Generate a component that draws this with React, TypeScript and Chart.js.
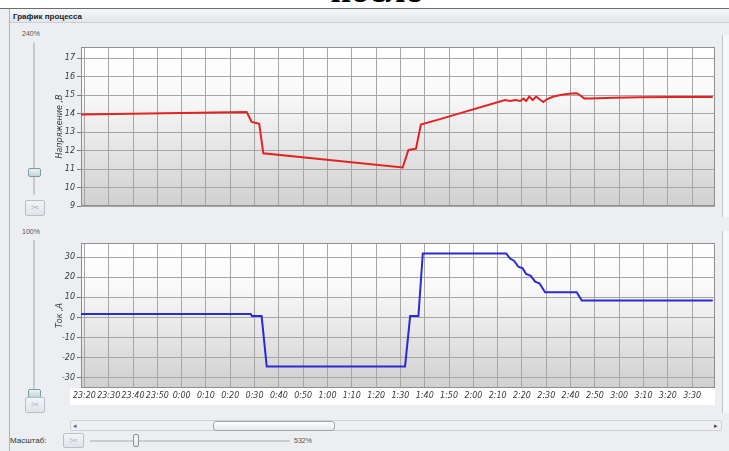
import React, { useEffect, useRef } from 'react';
import { Chart, registerables } from 'chart.js';

Chart.register(...registerables);

// ---- data ----
const tickMinutes = [0, 10, 20, 30, 40, 50, 60, 70, 80, 90, 100, 110, 120, 130, 140, 150, 160, 170, 180, 190, 200, 210, 220, 230, 240, 250];
const tickLabels = ['23:20', '23:30', '23:40', '23:50', '0:00', '0:10', '0:20', '0:30', '0:40', '0:50', '1:00', '1:10', '1:20', '1:30', '1:40', '1:50', '2:00', '2:10', '2:20', '2:30', '2:40', '2:50', '3:00', '3:10', '3:20', '3:30'];

const voltageTimes = [-1.4, 66.75, 68.8, 71.9, 73.6, 130.9, 133.3, 136.4, 138.4, 146.3, 173.0, 175.1, 177.2, 179.2, 180.6, 181.7, 183.0, 184.4, 185.8, 187.2, 188.8, 190.2, 192.9, 197.0, 200.5, 202.5, 203.9, 205.6, 208.0, 217.6, 228.6, 242.3, 258.5];
const voltageValues = [13.95, 14.08, 13.55, 13.45, 11.85, 11.08, 12.03, 12.1, 13.4, 13.7, 14.73, 14.68, 14.73, 14.68, 14.81, 14.68, 14.92, 14.73, 14.92, 14.77, 14.62, 14.77, 14.92, 15.03, 15.08, 15.1, 14.99, 14.82, 14.82, 14.86, 14.88, 14.9, 14.9];

const currentTimes = [-1.4, 68.4, 68.9, 72.9, 75.0, 131.9, 134.0, 137.4, 139.2, 173.5, 175.1, 176.7, 178.5, 180.3, 181.7, 183.6, 185.4, 187.2, 189.5, 202.5, 204.6, 258.5];
const currentValues = [1.7, 1.7, 0.7, 0.7, -24.3, -24.3, 0.7, 0.7, 31.8, 31.8, 29.3, 28.2, 25.2, 24.4, 21.6, 20.7, 17.8, 17.0, 12.5, 12.5, 8.4, 8.4];

const voltageTicks = [9, 10, 11, 12, 13, 14, 15, 16, 17];
const currentTicks = [-30, -20, -10, 0, 10, 20, 30];

const X_MIN = -1.4;
const X_MAX = 259.4;

const FONT = "'Liberation Sans', Arial, sans-serif";
const TICK_FONT = "'DejaVu Sans', sans-serif";

const plotBg = {
  id: 'plotBg',
  beforeDraw(chart: any) {
    const { ctx, chartArea: a } = chart;
    const g = ctx.createLinearGradient(0, a.top, 0, a.bottom);
    g.addColorStop(0, '#ffffff');
    g.addColorStop(0.3, '#f9f9f9');
    g.addColorStop(1, '#d0d0d0');
    ctx.save();
    ctx.fillStyle = g;
    ctx.fillRect(a.left, a.top, a.right - a.left, a.bottom - a.top);
    ctx.restore();
  },
  beforeDatasetsDraw(chart: any) {
    const { ctx, chartArea: a } = chart;
    ctx.save();
    ctx.strokeStyle = '#8e8e8e';
    ctx.lineWidth = 1;
    ctx.strokeRect(a.left + 0.5, a.top + 0.5, a.right - a.left - 1, a.bottom - a.top - 1);
    ctx.restore();
  },
};

type PlotProps = {
  times: number[];
  values: number[];
  yMin: number;
  yMax: number;
  yTicks: number[];
  title: string;
  color: string;
  showX: boolean;
  width: number;
  height: number;
  xAxisHeight: number;
};

function Plot(p: PlotProps) {
  const ref = useRef<HTMLCanvasElement | null>(null);
  useEffect(() => {
    if (!ref.current) return;
    const tickFont = { family: TICK_FONT, size: 8, style: 'italic' as const };
    const chart = new Chart(ref.current, {
      type: 'line',
      data: {
        datasets: [
          {
            data: p.times.map((t, i) => ({ x: t, y: p.values[i] })),
            borderColor: p.color,
            borderWidth: 2,
            pointRadius: 0,
            tension: 0,
            fill: false,
          },
        ],
      },
      options: {
        animation: false,
        responsive: false,
        maintainAspectRatio: false,
        layout: { padding: 0 },
        plugins: { legend: { display: false }, tooltip: { enabled: false } },
        scales: {
          x: {
            type: 'linear',
            min: X_MIN,
            max: X_MAX,
            afterBuildTicks: (s: any) => {
              s.ticks = tickMinutes.map((v) => ({ value: v }));
            },
            afterFit: (s: any) => {
              s.height = p.xAxisHeight;
              s.paddingLeft = 0;
              s.paddingRight = 0;
            },
            ticks: {
              display: p.showX,
              autoSkip: false,
              maxRotation: 0,
              minRotation: 0,
              padding: 3,
              color: '#3a3a3a',
              font: tickFont,
              callback: (_v: any, i: number) => tickLabels[i] ?? '',
            },
            grid: { color: '#a6a6a6', lineWidth: 1, drawTicks: false },
            border: { display: false },
          },
          y: {
            min: p.yMin,
            max: p.yMax,
            afterBuildTicks: (s: any) => {
              s.ticks = p.yTicks.map((v) => ({ value: v }));
            },
            afterFit: (s: any) => {
              s.width = 36;
              s.paddingTop = 0;
              s.paddingBottom = 0;
            },
            ticks: { color: '#3a3a3a', font: tickFont, padding: 2 },
            grid: { color: '#a6a6a6', lineWidth: 1, tickLength: 4, tickColor: '#7a7a7a' },
            border: { display: false },
            title: {
              display: true,
              text: p.title,
              color: '#3a3a3a',
              font: { family: TICK_FONT, size: 8, style: 'italic' },
              padding: { top: 10, bottom: 0 },
            },
          },
        },
      },
      plugins: [plotBg],
    });
    return () => chart.destroy();
  }, []);
  return <canvas ref={ref} width={p.width} height={p.height} style={{ display: 'block', width: p.width, height: p.height }} />;
}

const abs = (s: React.CSSProperties): React.CSSProperties => ({ position: 'absolute', ...s });

function VSlider({ top, label, thumbTop, trackH }: { top: number; label: string; thumbTop: number; trackH: number }) {
  return (
    <>
      <div style={abs({ left: 22, top: top - 12, fontSize: 7, color: '#555', fontFamily: FONT })}>{label}</div>
      <div style={abs({ left: 33, top, width: 2, height: trackH, background: '#c6cace', borderRadius: 1 })} />
      <div style={abs({ left: 28, top: thumbTop, width: 11, height: 7, background: 'linear-gradient(#e9f2f2,#c4d6d8)', border: '1px solid #7f9aa0', borderRadius: 2 })} />
    </>
  );
}

function Btn({ left, top, w, h }: { left: number; top: number; w: number; h: number }) {
  return (
    <div style={abs({ left, top, width: w, height: h, boxSizing: 'border-box', border: '1px solid #b9bfc5', background: 'linear-gradient(#f2f4f6,#e0e4e8)', borderRadius: 2, color: '#b8bec4', fontSize: 10, lineHeight: h - 2 + 'px', textAlign: 'center', fontFamily: "'DejaVu Sans', sans-serif" })}>
      ✂
    </div>
  );
}

export default function App() {
  return (
    <div style={{ position: 'fixed', left: 0, top: 0, width: 729, height: 451, overflow: 'hidden', background: '#eceef1', fontFamily: FONT }}>
      <div style={abs({ left: 0, top: 0, width: 729, height: 8, background: '#ffffff' })} />
      <div style={abs({ left: 0, top: -28, width: 752, textAlign: 'center', fontFamily: "'Liberation Serif', serif", fontWeight: 'bold', fontSize: 36, lineHeight: '36px', color: '#000' })}>после</div>
      <div style={abs({ left: 0, top: 8, width: 729, height: 1, background: '#6e6e6e' })} />
      <div style={abs({ left: 9, top: 9, width: 720, height: 13, background: 'linear-gradient(#f6f7f9,#e2e5e9)', borderBottom: '1px solid #cdd1d6' })} />
      <div style={abs({ left: 13, top: 10, fontSize: 8, fontWeight: 'bold', color: '#222', lineHeight: '13px' })}>График процесса</div>
      <div style={abs({ left: 9, top: 9, width: 1, height: 442, background: '#aeb2b7' })} />

      <VSlider top={42} label="240%" thumbTop={168} trackH={153} />
      <Btn left={25} top={200} w={20} h={16} />
      <VSlider top={240} label="100%" thumbTop={389} trackH={152} />
      <Btn left={25} top={397} w={20} h={16} />

      <div style={abs({ left: 70, top: 388, width: 645, height: 17, background: '#ffffff' })} />

      <div style={abs({ left: 45, top: 47 })}>
        <Plot times={voltageTimes} values={voltageValues} yMin={9} yMax={17.6} yTicks={voltageTicks} title="Напряжение ,В" color="#e42222" showX={false} width={670} height={167} xAxisHeight={8} />
      </div>
      <div style={abs({ left: 45, top: 243 })}>
        <Plot times={currentTimes} values={currentValues} yMin={-35} yMax={37} yTicks={currentTicks} title="Ток ,А" color="#2a2ad8" showX={true} width={670} height={165} xAxisHeight={20} />
      </div>

      <div style={abs({ left: 722, top: 35, width: 7, height: 182, background: '#f6f7f8', borderLeft: '1px solid #c3c7cc' })} />
      <div style={abs({ left: 722, top: 231, width: 7, height: 182, background: '#f6f7f8', borderLeft: '1px solid #c3c7cc' })} />

      <div style={abs({ left: 70, top: 420, width: 652, height: 11, boxSizing: 'border-box', background: '#eef0f2', border: '1px solid #cdd1d5', borderRadius: 2 })} />
      <div style={abs({ left: 213, top: 421, width: 122, height: 10, boxSizing: 'border-box', background: 'linear-gradient(#ffffff,#e6e8eb)', border: '1px solid #a2a8ae', borderRadius: 3 })} />
      <div style={abs({ left: 73, top: 420, fontSize: 7, color: '#666', lineHeight: '11px' })}>◂</div>
      <div style={abs({ left: 714, top: 420, fontSize: 7, color: '#444', lineHeight: '11px' })}>▸</div>

      <div style={abs({ left: 10, top: 434, fontSize: 8, color: '#333', lineHeight: '13px' })}>Масштаб:</div>
      <Btn left={63} top={433} w={21} h={15} />
      <div style={abs({ left: 90, top: 440, width: 200, height: 2, background: '#c9cdd1' })} />
      <div style={abs({ left: 133, top: 434, width: 6, height: 13, boxSizing: 'border-box', background: 'linear-gradient(#ffffff,#e3e6e9)', border: '1px solid #8a9096', borderRadius: 2 })} />
      <div style={abs({ left: 294, top: 435, fontSize: 7, color: '#555', lineHeight: '11px' })}>532%</div>
    </div>
  );
}
